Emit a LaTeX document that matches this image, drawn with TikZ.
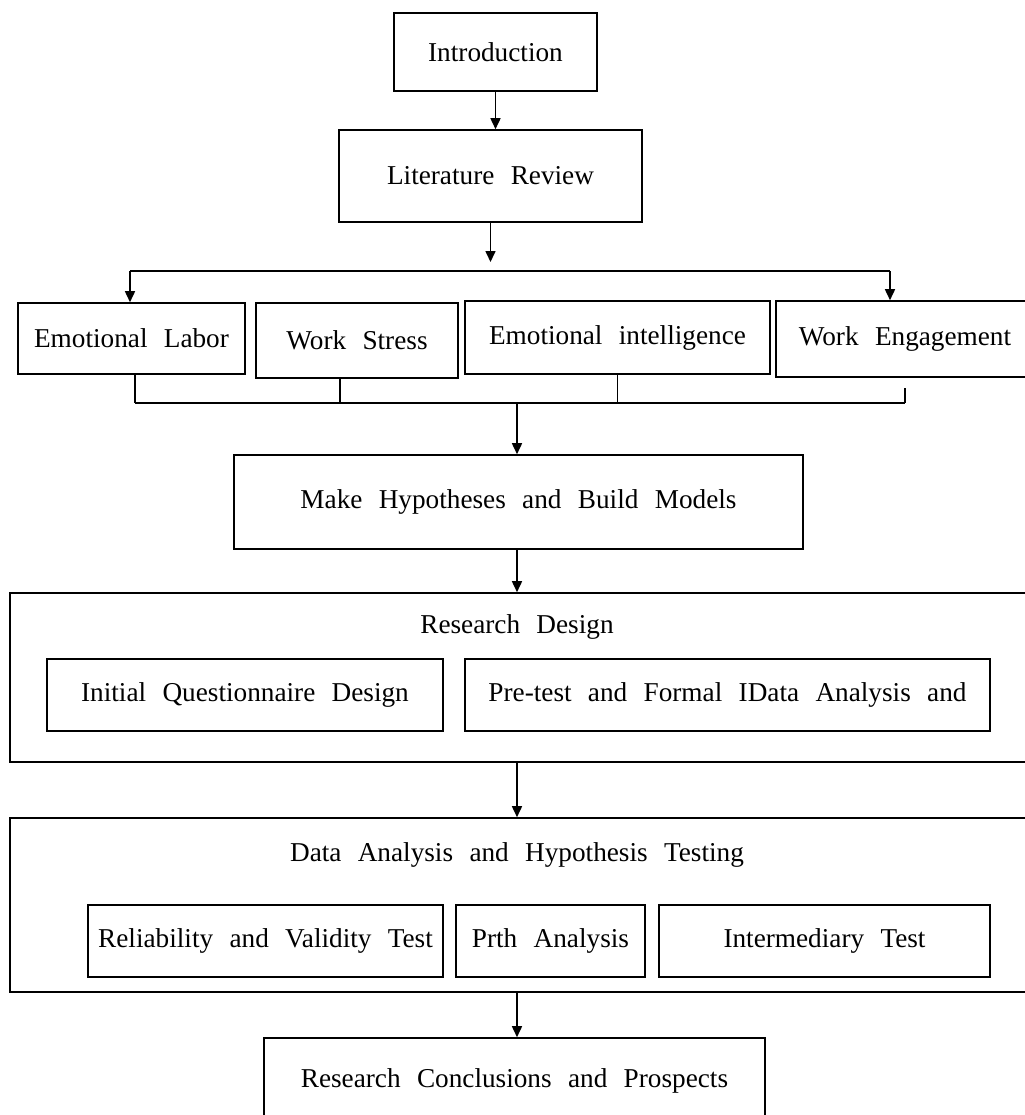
\documentclass[tikz,border=0pt]{standalone}
\usepackage{fontspec}
\setmainfont[WordSpace=2.4]{Liberation Serif}
\usepackage{tikz}
\usetikzlibrary{arrows.meta}

\begin{document}
\begin{tikzpicture}[x=0.2mm,y=-0.2mm,
  font=\fontsize{15.5}{18}\selectfont,
  box/.style={draw,line width=0.9pt,inner sep=0pt},
  arr/.style={line width=0.9pt,-{Triangle[length=2.2mm,width=2mm]}}]
\useasboundingbox (0,0) rectangle (1025,1115);
\clip (0,0) rectangle (1025,1115);
\coordinate (axis) at (517,0);
\node[box,minimum width=40.6mm,minimum height=15.6mm] (intro) at (495.5,52) {Introduction};
\node[box,minimum width=60.6mm,minimum height=18.4mm] (litrev) at (490.5,176) {Literature Review};
\node[box,minimum width=45.4mm,minimum height=14.2mm] (emolab) at (131.5,338.5) {Emotional Labor};
\node[box,minimum width=40.4mm,minimum height=15mm] (stress) at (357,340.5) {Work Stress};
\node[box,minimum width=61mm,minimum height=14.6mm] (emoint) at (617.5,337.5) {Emotional intelligence};
\node[box,minimum width=51.6mm,minimum height=15.2mm] (engage) at (905,339) {Work Engagement};
\node[box,minimum width=113.8mm,minimum height=18.8mm] (hypo) at (518.5,502) {Make Hypotheses and Build Models};
\node[box,minimum width=204mm,minimum height=33.8mm] (design) at (520,677.5) {};
\node (designtitle) at (517,627) {Research Design};
\node[box,minimum width=79.2mm,minimum height=14.4mm] (iqd) at (245,695) {Initial Questionnaire Design};
\node[box,minimum width=105mm,minimum height=14.4mm] (pretest) at (727.5,695) {Pre-test and Formal IData Analysis and};
\node[box,minimum width=204mm,minimum height=34.8mm] (analysis) at (520,905) {};
\node (analysistitle) at (517,855) {Data Analysis and Hypothesis Testing};
\node[box,minimum width=71mm,minimum height=14.4mm] (reliab) at (265.5,941) {Reliability and Validity Test};
\node[box,minimum width=37.8mm,minimum height=14.4mm] (prth) at (550.5,941) {Prth Analysis};
\node[box,minimum width=66.2mm,minimum height=14.4mm] (inter) at (824.5,941) {Intermediary Test};
\node[box,minimum width=100.2mm,minimum height=17.2mm] (concl) at (514.5,1081) {Research Conclusions and Prospects};
% upper bracket
\coordinate (splitL) at (130,271);
\coordinate (splitR) at (890,271);
\coordinate (splitin) at (490.5,262);
\draw[arr] (intro.south) -- (intro.south |- litrev.north);
\draw[arr] (litrev.south) -- (splitin);
\draw[line width=0.9pt] (splitL) -- (splitR);
\draw[arr] (splitL) -- (splitL |- emolab.north);
\draw[arr] (splitR) -- (splitR |- engage.north);
% lower bracket
\coordinate (joinL) at (135,403);
\coordinate (joinR) at (905,403);
\coordinate (tickR) at (905,388);
\draw[line width=0.9pt] (joinL) -- (joinR);
\draw[line width=0.9pt] (joinL |- emolab.south) -- (joinL);
\draw[line width=0.9pt] (340,0 |- stress.south) -- (340,403);
\draw[line width=0.9pt] (emoint.south) -- (emoint.south |- joinL);
\draw[line width=0.9pt] (tickR) -- (joinR);
\draw[arr] (axis |- joinL) -- (axis |- hypo.north);
\draw[arr] (axis |- hypo.south) -- (axis |- design.north);
\draw[arr] (axis |- design.south) -- (axis |- analysis.north);
\draw[arr] (axis |- analysis.south) -- (axis |- concl.north);
\end{tikzpicture}
\end{document}
